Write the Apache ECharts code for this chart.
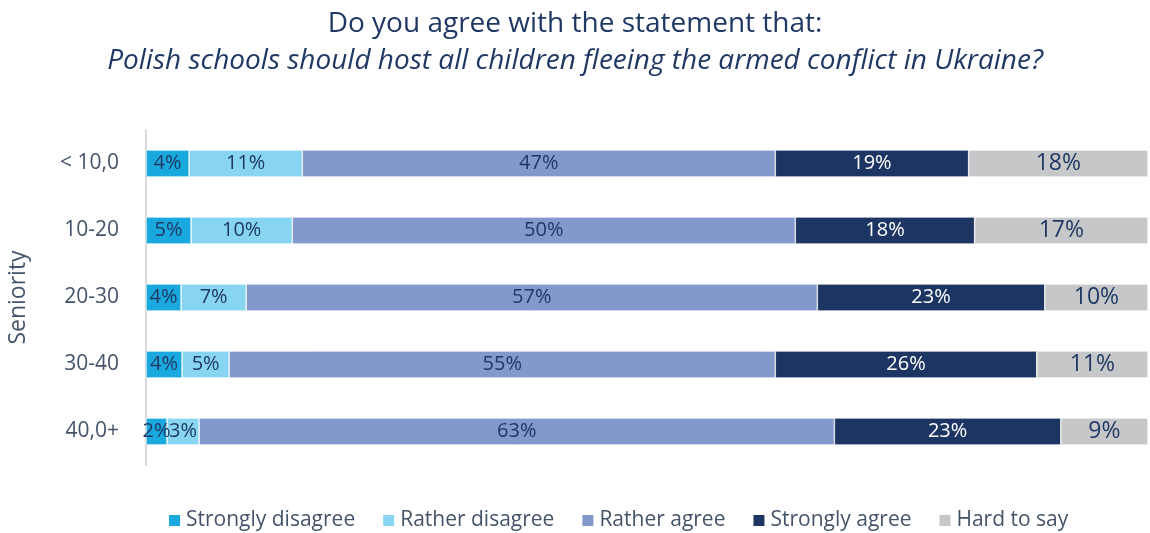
<!DOCTYPE html>
<html>
<head>
<meta charset="utf-8">
<script src="https://cdn.jsdelivr.net/npm/echarts@6/dist/echarts.min.js"></script>
<style>
  html, body { margin: 0; padding: 0; background: #fff; }
  #chart { width: 1150px; height: 533px; }
</style>
</head>
<body>
<div id="chart"></div>
<script>
// 分类（自上而下）
const categories = ['< 10,0', '10-20', '20-30', '30-40', '40,0+'];
const seriesNames = ['Strongly disagree', 'Rather disagree', 'Rather agree', 'Strongly agree', 'Hard to say'];
// 各系列百分比（按分类顺序）
const stronglyDisagree = [4.3, 4.5, 3.5, 3.6, 2.1];
const ratherDisagree = [11.3, 10.1, 6.5, 4.7, 3.2];
const ratherAgree = [47.2, 50.2, 57.0, 54.5, 63.4];
const stronglyAgree = [19.3, 17.9, 22.7, 26.1, 22.6];
const hardToSay = [17.9, 17.3, 10.3, 11.1, 8.7];

const seriesData = [stronglyDisagree, ratherDisagree, ratherAgree, stronglyAgree, hardToSay];
const colors = ['#1AA9DE', '#88D5F2', '#8399CD', '#1D3563', '#C6C7C9'];
const labelColors = ['#1F3864', '#1F3864', '#1F3864', '#FFFFFF', '#1F3864'];
const labelSizes = [20, 20, 20, 20, 23];

const fontFam = 'Open Sans';
const chart = echarts.init(document.getElementById('chart'));

const option = {
  animation: false,
  title: {
    text: 'Do you agree with the statement that:\n{i|Polish schools should host all children fleeing the armed conflict in Ukraine?}',
    left: 'center',
    top: 1,
    textStyle: {
      color: '#1F3864',
      fontSize: 28,
      fontWeight: 'normal',
      fontFamily: fontFam,
      lineHeight: 37,
      rich: {
        i: {
          color: '#1F3864',
          fontSize: 28,
          fontStyle: 'italic',
          fontFamily: fontFam,
          lineHeight: 37
        }
      }
    }
  },
  legend: {
    top: 505,
    left: 162,
    icon: 'rect',
    itemWidth: 13,
    itemHeight: 13,
    itemGap: 26,
    textStyle: {
      color: '#44546A',
      fontSize: 21,
      fontFamily: fontFam
    },
    data: seriesNames
  },
  grid: {
    left: 146,
    right: 2,
    top: 130,
    height: 335,
    outerBoundsMode: 'none'
  },
  xAxis: {
    type: 'value',
    min: 0,
    max: 100,
    show: false
  },
  yAxis: {
    type: 'category',
    data: categories,
    inverse: true,
    name: 'Seniority',
    nameLocation: 'middle',
    nameGap: 116,
    nameTextStyle: {
      color: '#44546A',
      fontSize: 23,
      fontFamily: fontFam
    },
    axisLine: { lineStyle: { color: '#D9D9D9', width: 2 } },
    axisTick: { show: false },
    axisLabel: {
      margin: 27,
      color: '#44546A',
      fontSize: 21,
      fontFamily: fontFam
    }
  },
  series: seriesData.map((d, i) => ({
    name: seriesNames[i],
    type: 'bar',
    stack: 'total',
    barWidth: 27,
    data: d,
    itemStyle: {
      color: colors[i],
      borderColor: '#FFFFFF',
      borderWidth: 0.6
    },
    label: {
      show: true,
      position: 'inside',
      color: labelColors[i],
      fontSize: labelSizes[i],
      fontFamily: fontFam,
      formatter: p => Math.round(p.value) + '%'
    }
  }))
};

chart.setOption(option);
</script>
</body>
</html>
